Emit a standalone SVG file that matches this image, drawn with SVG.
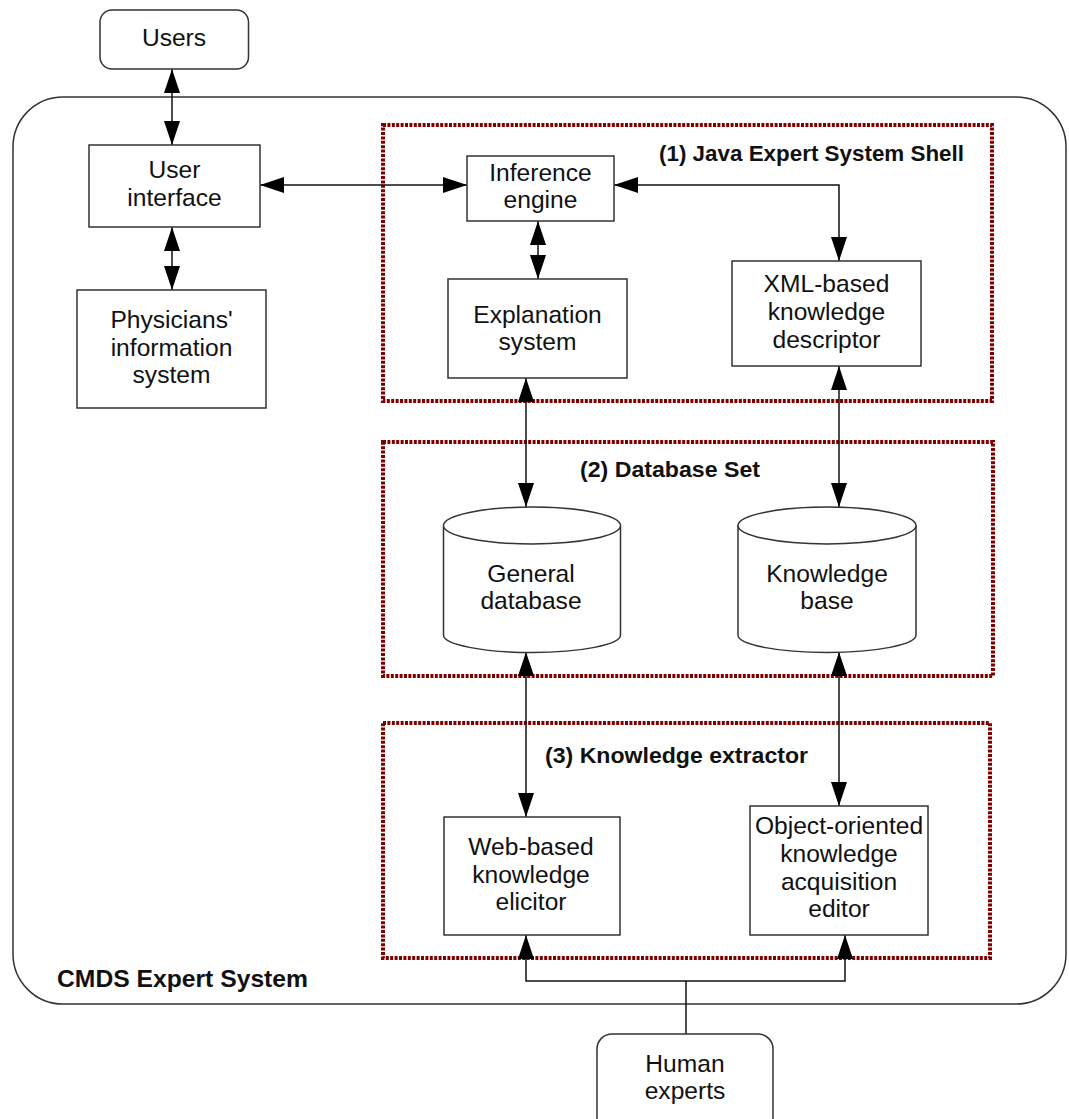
<svg xmlns="http://www.w3.org/2000/svg" width="1069" height="1119" viewBox="0 0 1069 1119">
<style>
.bx{fill:#fff;stroke:#333;stroke-width:1.5}
.grp{fill:none;stroke:#800000;stroke-width:4;stroke-dasharray:3 1.4}
.t{font-family:"Liberation Sans",Arial,sans-serif;font-size:24.6px;fill:#111;text-anchor:middle}
.b{font-family:"Liberation Sans",Arial,sans-serif;font-weight:bold;fill:#111}
.c{fill:none;stroke:#111;stroke-width:1.5}
</style>
<defs>
<marker id="ah" markerUnits="userSpaceOnUse" markerWidth="25" markerHeight="17" refX="24" refY="8" orient="auto-start-reverse" viewBox="0 0 25 17">
<path d="M0,0 L24,8 L0,16 z" fill="#000"/>
</marker>
</defs>
<rect width="1069" height="1119" fill="#fff"/>

<g id="cmds">
<rect x="13" y="97" width="1053" height="907" rx="50" ry="50" class="bx"/>
<text class="b" x="57" y="987" font-size="24" textLength="251" lengthAdjust="spacingAndGlyphs">CMDS Expert System</text>
</g>

<g id="group1">
<rect x="383" y="125" width="609" height="276" class="grp"/>
<text class="b" x="659" y="161" font-size="22" textLength="305" lengthAdjust="spacingAndGlyphs">(1) Java Expert System Shell</text>
</g>
<g id="group2">
<rect x="383" y="442" width="610" height="234" class="grp"/>
<text class="b" x="580" y="477" font-size="22" textLength="180" lengthAdjust="spacingAndGlyphs">(2) Database Set</text>
</g>
<g id="group3">
<rect x="383" y="723" width="607" height="235" class="grp"/>
<text class="b" x="545" y="763" font-size="22" textLength="263" lengthAdjust="spacingAndGlyphs">(3) Knowledge extractor</text>
</g>

<g id="connectors">
<line x1="172" y1="69" x2="172" y2="145" class="c" marker-start="url(#ah)" marker-end="url(#ah)"/>
<line x1="172" y1="227" x2="172" y2="290" class="c" marker-start="url(#ah)" marker-end="url(#ah)"/>
<line x1="260" y1="185" x2="467" y2="185" class="c" marker-start="url(#ah)" marker-end="url(#ah)"/>
<line x1="538" y1="221" x2="538" y2="279" class="c" marker-start="url(#ah)" marker-end="url(#ah)"/>
<path d="M614,185 H839 V261" class="c" marker-start="url(#ah)" marker-end="url(#ah)"/>
<line x1="526" y1="378" x2="526" y2="507" class="c" marker-start="url(#ah)" marker-end="url(#ah)"/>
<line x1="839" y1="366" x2="839" y2="507" class="c" marker-start="url(#ah)" marker-end="url(#ah)"/>
<line x1="526" y1="652" x2="526" y2="817" class="c" marker-start="url(#ah)" marker-end="url(#ah)"/>
<line x1="839" y1="652" x2="839" y2="806" class="c" marker-start="url(#ah)" marker-end="url(#ah)"/>
<path d="M686,1034 V981" class="c"/>
<path d="M686,981 H526 V935" class="c" marker-end="url(#ah)"/>
<path d="M686,981 H845 V935" class="c" marker-end="url(#ah)"/>
</g>

<g id="users">
<rect x="100" y="10" width="148.5" height="59" rx="12" class="bx"/>
<text class="t" x="174" y="46">Users</text>
</g>
<g id="user-interface">
<rect x="89" y="145" width="171" height="82" class="bx"/>
<text class="t" x="174.5" y="178">User</text>
<text class="t" x="174.5" y="205.5">interface</text>
</g>
<g id="physicians">
<rect x="77" y="290" width="189" height="118" class="bx"/>
<text class="t" x="171.5" y="328">Physicians'</text>
<text class="t" x="171.5" y="355.5">information</text>
<text class="t" x="171.5" y="383">system</text>
</g>
<g id="inference">
<rect x="467" y="156" width="147" height="65" class="bx"/>
<text class="t" x="540.5" y="181">Inference</text>
<text class="t" x="540.5" y="208">engine</text>
</g>
<g id="explanation">
<rect x="448" y="279" width="179" height="99" class="bx"/>
<text class="t" x="537.5" y="322.5">Explanation</text>
<text class="t" x="537.5" y="349.5">system</text>
</g>
<g id="xml">
<rect x="732" y="261" width="189" height="105" class="bx"/>
<text class="t" x="826.5" y="292">XML-based</text>
<text class="t" x="826.5" y="320">knowledge</text>
<text class="t" x="826.5" y="347.5">descriptor</text>
</g>
<g id="general-db">
<path d="M443.5,525.5 A88.5,18.5 0 0 1 620.5,525.5 V635 A88.5,17.5 0 0 1 443.5,635 Z" class="bx"/>
<path d="M443.5,525.5 A88.5,18.5 0 0 0 620.5,525.5" class="bx" fill="none"/>
<text class="t" x="531" y="582">General</text>
<text class="t" x="531" y="609">database</text>
</g>
<g id="knowledge-base">
<path d="M738,525.5 A89,18.5 0 0 1 916,525.5 V635 A89,17.5 0 0 1 738,635 Z" class="bx"/>
<path d="M738,525.5 A89,18.5 0 0 0 916,525.5" class="bx" fill="none"/>
<text class="t" x="827" y="582">Knowledge</text>
<text class="t" x="827" y="609">base</text>
</g>
<g id="web-elicitor">
<rect x="444" y="817" width="176" height="118" class="bx"/>
<text class="t" x="531" y="855">Web-based</text>
<text class="t" x="531" y="882.5">knowledge</text>
<text class="t" x="531" y="910">elicitor</text>
</g>
<g id="oo-editor">
<rect x="750" y="806" width="178" height="129" class="bx"/>
<text class="t" x="839" y="834">Object-oriented</text>
<text class="t" x="839" y="862">knowledge</text>
<text class="t" x="839" y="890">acquisition</text>
<text class="t" x="839" y="917">editor</text>
</g>
<g id="human-experts">
<rect x="597" y="1034" width="176" height="100" rx="15" class="bx"/>
<text class="t" x="685" y="1072">Human</text>
<text class="t" x="685" y="1099">experts</text>
</g>
</svg>
